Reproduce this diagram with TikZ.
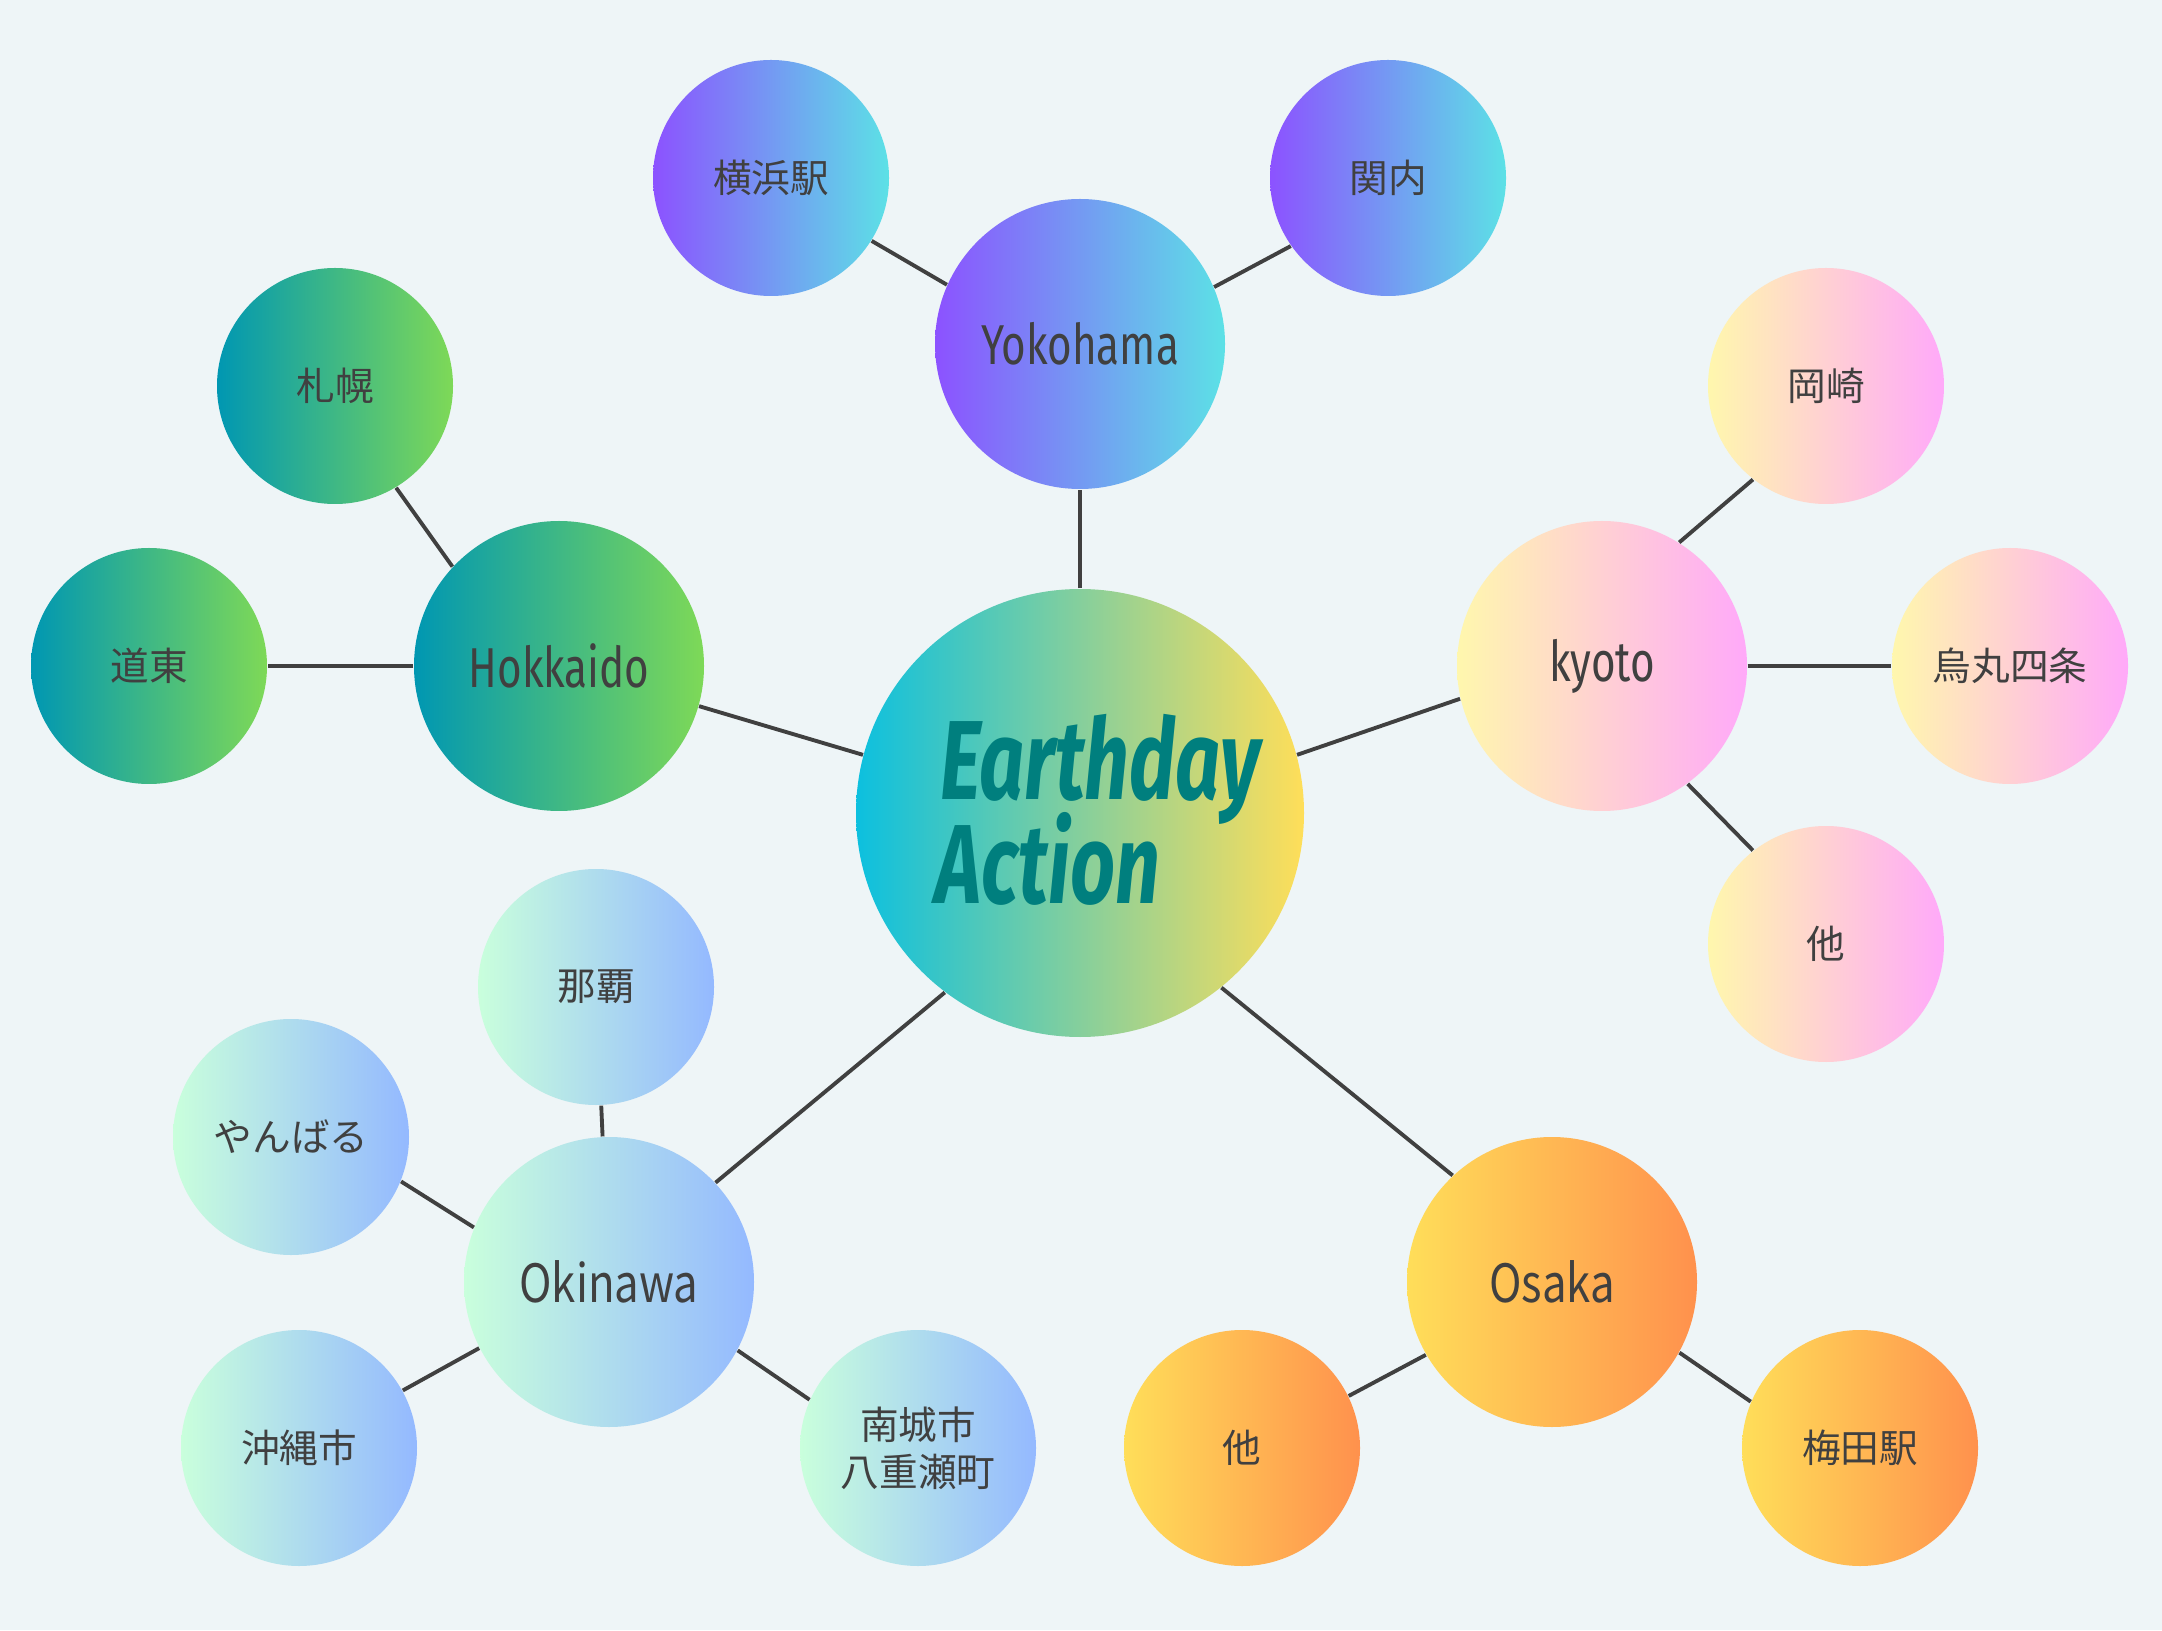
\documentclass[tikz,border=0pt]{standalone}
\usepackage{fontspec}
\usepackage{tikz}
\newfontfamily\jpfont{Noto Sans CJK JP}
\newfontfamily\widefont{Noto Sans CJK JP}[FakeStretch=0.83]
\newfontfamily\condfont{Fira Sans}[FakeStretch=0.75]
\newfontfamily\brushfont{Fira Sans}[FakeStretch=0.7]
\definecolor{bgcol}{HTML}{EEF5F7}
\definecolor{ink}{HTML}{404040}
\definecolor{teal}{HTML}{007F7E}
\definecolor{hub-l}{HTML}{0CC0DF}\definecolor{hub-r}{HTML}{FFDE59}
\definecolor{yk-l}{HTML}{8C52FF}\definecolor{yk-r}{HTML}{5CE1E6}
\definecolor{hk-l}{HTML}{0097B2}\definecolor{hk-r}{HTML}{7ED957}
\definecolor{ky-l}{HTML}{FFF7AD}\definecolor{ky-r}{HTML}{FFA9F9}
\definecolor{ok-l}{HTML}{C9FFDC}\definecolor{ok-r}{HTML}{94B9FF}
\definecolor{os-l}{HTML}{FFDE59}\definecolor{os-r}{HTML}{FF914D}

\begin{document}
\begin{tikzpicture}[
  bubble/.style={circle,inner sep=0pt,minimum size=2.90cm,text=ink},
  leaf/.style={circle,inner sep=0pt,minimum size=2.36cm,text=ink,align=center,
    font=\jpfont\fontsize{11}{13.5}\selectfont},
  city/.style={font=\condfont\fontsize{16}{19}\selectfont},
  town/.style={font=\widefont\fontsize{15}{18}\selectfont},
  brush/.style={text=teal,font=\brushfont\fontsize{32}{36}\selectfont\bfseries\itshape},
  link/.style={draw=ink,line width=1.1pt}]
\fill[bgcol] (0,0) rectangle (21.62,16.30);
% hub
\node[circle,inner sep=0pt,minimum size=4.48cm,left color=hub-l,right color=hub-r] (hub) at (10.80,8.17) {};
\node[brush,anchor=base] (earthday) at (11.00,8.30) {Earthday};
\node[brush,anchor=base] (action) at (10.48,7.27) {Action};
% regions
\node[bubble,city,left color=yk-l,right color=yk-r] (yoko) at (10.80,12.86) {Yokohama};
\node[bubble,city,left color=hk-l,right color=hk-r] (hok) at (5.59,9.64) {Hokkaido};
\node[bubble,city,left color=ky-l,right color=ky-r] (kyo) at (16.02,9.64) {kyoto};
\node[bubble,town,left color=ok-l,right color=ok-r] (oki) at (6.09,3.48) {Okinawa};
\node[bubble,town,left color=os-l,right color=os-r] (osa) at (15.52,3.48) {Osaka};
% places
\node[leaf,left color=yk-l,right color=yk-r] (yokoeki) at (7.71,14.52) {横浜駅};
\node[leaf,left color=yk-l,right color=yk-r] (kannai) at (13.88,14.52) {関内};
\node[leaf,left color=hk-l,right color=hk-r] (sapporo) at (3.35,12.44) {札幌};
\node[leaf,left color=hk-l,right color=hk-r] (doto) at (1.49,9.64) {道東};
\node[leaf,left color=ky-l,right color=ky-r] (okazaki) at (18.26,12.44) {岡崎};
\node[leaf,left color=ky-l,right color=ky-r] (karasuma) at (20.10,9.64) {烏丸四条};
\node[leaf,left color=ky-l,right color=ky-r] (kyoetc) at (18.26,6.86) {他};
\node[leaf,left color=ok-l,right color=ok-r] (naha) at (5.96,6.43) {那覇};
\node[leaf,left color=ok-l,right color=ok-r] (yanbaru) at (2.91,4.93) {やんばる};
\node[leaf,left color=ok-l,right color=ok-r] (okicity) at (2.99,1.82) {沖縄市};
\node[leaf,left color=ok-l,right color=ok-r] (nanjo) at (9.18,1.82) {南城市\\八重瀬町};
\node[leaf,left color=os-l,right color=os-r] (osaetc) at (12.42,1.82) {他};
\node[leaf,left color=os-l,right color=os-r] (umeda) at (18.60,1.82) {梅田駅};
% links, border angle on each end
\foreach \a/\b in {hub.90/yoko.270,hub.165/hok.344,hub.15/kyo.193,hub.233/oki.43,hub.309/osa.133,
  yoko.156/yokoeki.328,yoko.23/kannai.215,hok.137/sapporo.301,hok.180/doto.0,
  kyo.58/okazaki.232,kyo.0/karasuma.180,kyo.306/kyoetc.128,oki/naha,oki.158/yanbaru.338,
  oki.207/okicity.29,oki.332/nanjo.156,osa.210/osaetc.26,osa.331/umeda.157}
  \draw[link] (\a) -- (\b);
\end{tikzpicture}
\end{document}
